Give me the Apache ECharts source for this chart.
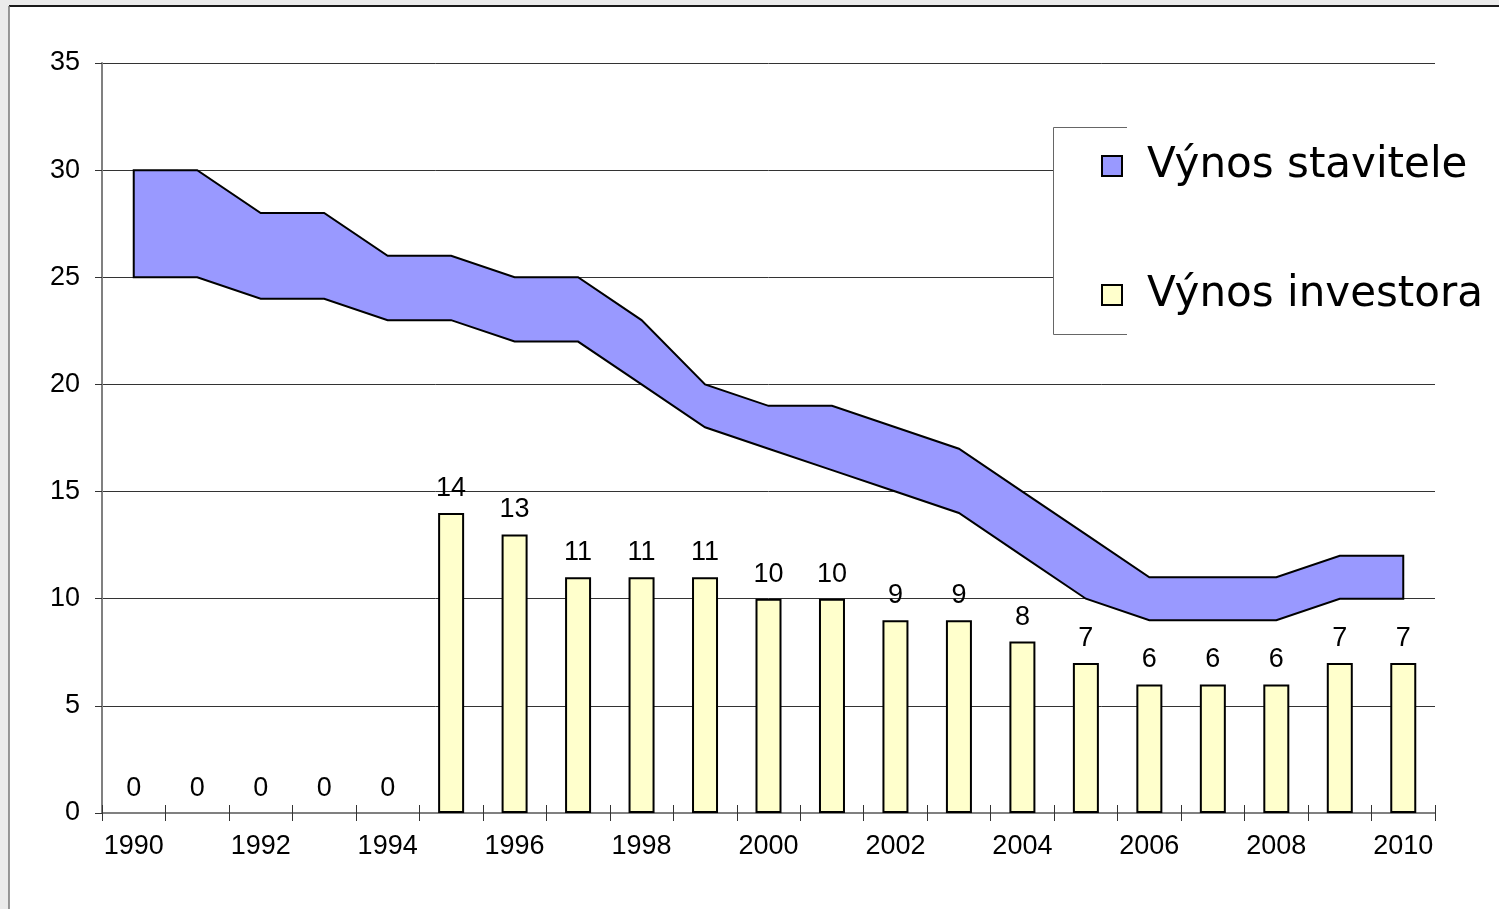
<!DOCTYPE html>
<html>
<head>
<meta charset="utf-8">
<title>Výnos stavitele a investora</title>
<script src="https://cdn.jsdelivr.net/npm/echarts@6/dist/echarts.min.js"></script>
<style>
    html, body { margin: 0; padding: 0; background: #ebebeb; }
    #chart { width: 1499px; height: 909px; }
</style>
</head>
<body>
<div id="chart"></div>
<script>
    // data
    var years = ['1990', '1991', '1992', '1993', '1994', '1995', '1996', '1997', '1998', '1999', '2000',
        '2001', '2002', '2003', '2004', '2005', '2006', '2007', '2008', '2009', '2010'];
    var investor = [0, 0, 0, 0, 0, 14, 13, 11, 11, 11, 10, 10, 9, 9, 8, 7, 6, 6, 6, 7, 7];
    var builderTop = [30, 30, 28, 28, 26, 26, 25, 25, 23, 20, 19, 19, 18, 17, 15, 13, 11, 11, 11, 12, 12];
    var builderBottom = [25, 25, 24, 24, 23, 23, 22, 22, 20, 18, 17, 16, 15, 14, 12, 10, 9, 9, 9, 10, 10];

    var axisFont = 'Liberation Sans, Arial, sans-serif';
    var legendFont = 'DejaVu Sans, Verdana, sans-serif';

    // band between the two builder lines, one closed polygon
    function renderBand(params, api) {
        var pts = [];
        for (var i = 0; i < years.length; i++) {
            pts.push(api.coord([i, builderTop[i]]));
        }
        for (var j = years.length - 1; j >= 0; j--) {
            pts.push(api.coord([j, builderBottom[j]]));
        }
        return {
            type: 'polygon',
            shape: { points: pts },
            style: { fill: '#9999ff', stroke: '#000', lineWidth: 2, lineJoin: 'miter' }
        };
    }

    // zero bars get no outline, so no dash sits on the axis
    var barData = investor.map(function (v) {
        return v === 0 ? { value: v, itemStyle: { borderWidth: 0 } } : v;
    });

    var chart = echarts.init(document.getElementById('chart'));

    chart.setOption({
        backgroundColor: '#ebebeb',
        animation: false,
        graphic: [
            {
                type: 'rect', z: -10, silent: true,
                shape: { x: 9, y: 6, width: 1500, height: 910 },
                style: { fill: '#fff' }
            },
            {
                type: 'line', z: -9, silent: true,
                shape: { x1: 9, y1: 6, x2: 1499, y2: 6 },
                style: { stroke: '#1a1a1a', lineWidth: 2 }
            },
            {
                type: 'line', z: -9, silent: true,
                shape: { x1: 9, y1: 6, x2: 9, y2: 909 },
                style: { stroke: '#777', lineWidth: 1.5 }
            },
            {
                // legend box, cut open on the right
                type: 'rect', z: 3, silent: true,
                shape: { x: 1053.5, y: 127.5, width: 460, height: 207 },
                style: { fill: '#fff' }
            },
            {
                type: 'polyline', z: 3, silent: true,
                shape: { points: [[1127, 127.5], [1053.5, 127.5], [1053.5, 334.5], [1127, 334.5]] },
                style: { stroke: '#666', lineWidth: 1, fill: null }
            }
        ],
        legend: [
            {
                data: ['Výnos stavitele'],
                left: 1101, top: 145, padding: 0,
                icon: 'rect', itemWidth: 20, itemHeight: 20,
                textStyle: { fontSize: 42, fontFamily: legendFont, color: '#000', padding: [0, 0, 0, 20] }
            },
            {
                data: ['Výnos investora'],
                left: 1101, top: 274, padding: 0,
                icon: 'rect', itemWidth: 20, itemHeight: 20,
                textStyle: { fontSize: 42, fontFamily: legendFont, color: '#000', padding: [0, 0, 0, 20] }
            }
        ],
        grid: { left: 102, right: 64, top: 63, bottom: 96 },
        xAxis: [
            {
                type: 'category',
                data: years,
                boundaryGap: true,
                axisLine: { lineStyle: { color: '#808080', width: 2 } },
                axisTick: { show: true, interval: 0, length: 8, lineStyle: { color: '#333', width: 1 } },
                axisLabel: { interval: 1, margin: 20, fontSize: 27, fontFamily: axisFont, color: '#000' },
                splitLine: { show: false }
            },
            {
                // second axis only for the inner half of the crossing ticks
                type: 'category',
                data: years,
                position: 'bottom',
                boundaryGap: true,
                axisLine: { show: false },
                axisTick: { show: true, inside: true, interval: 0, length: 8, lineStyle: { color: '#333', width: 1 } },
                axisLabel: { show: false },
                splitLine: { show: false }
            }
        ],
        yAxis: {
            type: 'value',
            min: 0, max: 35, interval: 5,
            axisLine: { show: true, lineStyle: { color: '#808080', width: 2 } },
            axisTick: { show: true, length: 7, lineStyle: { color: '#333', width: 1 } },
            axisLabel: { margin: 22, fontSize: 27, fontFamily: axisFont, color: '#000' },
            splitLine: { show: true, lineStyle: { color: '#333', width: 1 } }
        },
        series: [
            {
                name: 'Výnos stavitele',
                type: 'custom',
                renderItem: renderBand,
                data: [[0, builderTop[0]]],
                clip: false,
                z: 2,
                itemStyle: { color: '#9999ff', borderColor: '#000', borderWidth: 2 }
            },
            {
                name: 'Výnos investora',
                type: 'bar',
                data: barData,
                barWidth: 26,
                z: 2,
                itemStyle: { color: '#ffffcc', borderColor: '#000', borderWidth: 2 },
                label: {
                    show: true, position: 'top', distance: 11,
                    fontSize: 27, fontFamily: axisFont, color: '#000'
                }
            }
        ]
    });
</script>
</body>
</html>
